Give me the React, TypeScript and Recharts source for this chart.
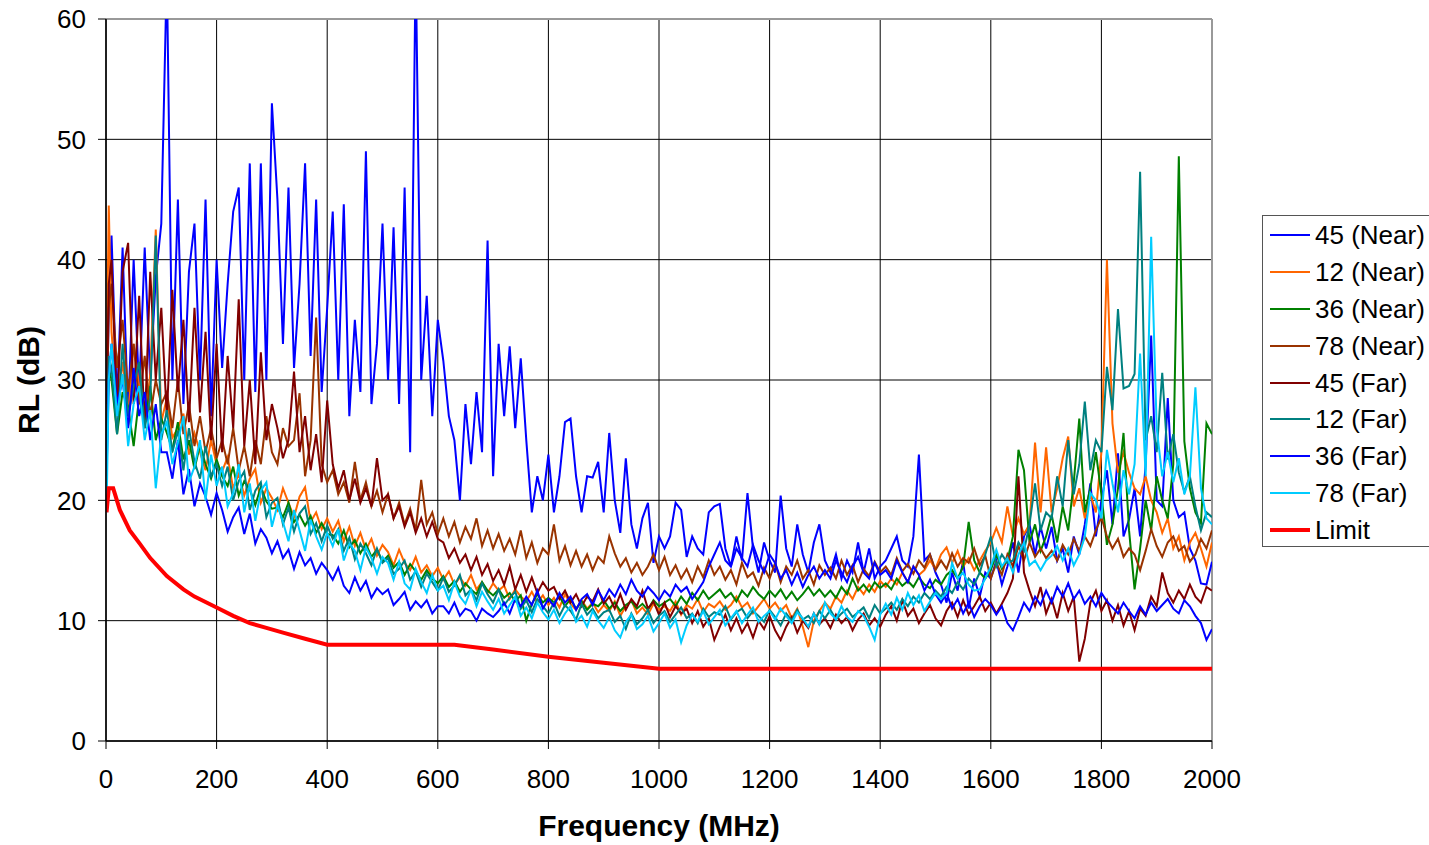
import React from 'react';
import { LineChart, Line, XAxis, YAxis, CartesianGrid, ReferenceLine } from 'recharts';

// Frequency grid (MHz)
const FREQS = [
  1, 5,
  10, 20, 30, 40, 50, 60, 70, 80, 90, 100,
  110, 120, 130, 140, 150, 160, 170, 180, 190, 200,
  210, 220, 230, 240, 250, 260, 270, 280, 290, 300,
  310, 320, 330, 340, 350, 360, 370, 380, 390, 400,
  410, 420, 430, 440, 450, 460, 470, 480, 490, 500,
  510, 520, 530, 540, 550, 560, 570, 580, 590, 600,
  610, 620, 630, 640, 650, 660, 670, 680, 690, 700,
  710, 720, 730, 740, 750, 760, 770, 780, 790, 800,
  810, 820, 830, 840, 850, 860, 870, 880, 890, 900,
  910, 920, 930, 940, 950, 960, 970, 980, 990, 1000,
  1010, 1020, 1030, 1040, 1050, 1060, 1070, 1080, 1090, 1100,
  1110, 1120, 1130, 1140, 1150, 1160, 1170, 1180, 1190, 1200,
  1210, 1220, 1230, 1240, 1250, 1260, 1270, 1280, 1290, 1300,
  1310, 1320, 1330, 1340, 1350, 1360, 1370, 1380, 1390, 1400,
  1410, 1420, 1430, 1440, 1450, 1460, 1470, 1480, 1490, 1500,
  1510, 1520, 1530, 1540, 1550, 1560, 1570, 1580, 1590, 1600,
  1610, 1620, 1630, 1640, 1650, 1660, 1670, 1680, 1690, 1700,
  1710, 1720, 1730, 1740, 1750, 1760, 1770, 1780, 1790, 1800,
  1810, 1820, 1830, 1840, 1850, 1860, 1870, 1880, 1890, 1900,
  1910, 1920, 1930, 1940, 1950, 1960, 1970, 1980, 1990, 2000,
];

const NEAR_45 = [
  26, 36,
  42, 28, 41, 27, 40, 29, 41, 30, 38.5, 43,
  64, 30, 45, 28, 39, 43, 30, 45, 27, 40,
  31, 38, 44, 46, 30, 48, 29, 48, 30, 53,
  45, 33, 46, 31, 38, 48, 32, 45, 29, 36,
  44, 30, 44.6, 27, 35, 29, 49, 28, 33, 43,
  30, 42.7, 28, 46, 24, 65, 30, 37, 27, 35,
  31.6, 27, 25, 20, 28, 23, 29, 24, 41.6, 22,
  33, 27, 32.8, 26, 31.8, 25, 19, 22, 20, 23.8,
  19, 22, 26.5, 26.8, 22, 19, 22, 21.9, 23.2, 19,
  25.6, 20, 17.3, 23.5, 18, 16, 18.5, 19.8, 14.8, 17,
  16, 17, 19.8, 19.2, 15.3, 17, 16, 15.5, 19, 19.5,
  19.7, 16, 14.5, 17, 15, 20.6, 16, 14, 16.5, 15,
  14, 20.4, 16, 14.5, 18, 15.5, 14, 16.5, 18, 15,
  14, 15.5, 13.5, 15, 14, 16.5, 14, 16, 13.5, 14.5,
  15, 16, 17, 15, 14.5, 17, 23.8, 15, 15.5, 14,
  13, 11.5, 14, 12.5, 15, 11, 13.5, 12, 14, 13.5,
  15, 13, 14.5, 16.5, 14, 17, 18, 15.5, 17.8, 16,
  17.8, 15, 16, 14, 17, 15.5, 18, 21.4, 17, 20,
  22.5, 18, 23.9, 17, 18.4, 21, 17, 23, 33.7, 20,
  19.5, 28.5, 20, 18.6, 19, 16, 15, 13.1, 13, 14.9,
];

const NEAR_12 = [
  30, 44.5,
  34, 28, 31.5, 27, 33, 29.5, 26, 30.5, 42.5, 26.5,
  28.5, 25.2, 26, 27.2, 23.8, 25.6, 24, 22.5, 25, 23,
  22.4, 23.6, 21, 22.2, 20.4, 21.8, 22.6, 19.8, 21, 20.2,
  19.2, 21, 19.8, 18.6, 20.3, 21.1, 18.2, 19, 17.6, 18.5,
  17.4, 18.3, 16.6, 17.8, 16.2, 17.3, 15.9, 16.8, 15.4, 16.3,
  15.7, 14.6, 15.9, 14.8, 14.2, 15.3, 14, 14.6, 13.7, 14.4,
  13.4, 14.1, 13, 13.6, 12.9, 13.8, 12.6, 13.2, 12.3, 13.1,
  12.5, 12.9, 11.8, 12.6, 12, 11.6, 12.4, 11.5, 12.1, 11.3,
  11.9, 11.1, 12.2, 11.4, 10.9, 11.7, 11, 11.5, 10.7, 11.3,
  10.8, 11.6, 10.4, 11.2, 11.7, 10.6, 11.1, 10.5, 11.4, 10.9,
  11.2, 10.8, 11.6, 10.5, 11.3, 11, 11.8, 10.7, 11.4, 11.1,
  11.6, 10.9, 11.3, 12, 11.1, 11.5, 10.6, 11.2, 11.8, 11,
  11.5, 10.8, 11.3, 10.2, 11, 9.5, 7.8, 10, 10.8, 11.5,
  11, 12, 11.5, 12.5, 11.8, 12.8, 12.2, 13, 12.4, 13.3,
  12.8, 13.5, 13, 14, 13.2, 14.5, 13.8, 14.2, 15, 14.3,
  15.5, 16.1, 14.8, 15.8, 14.5, 15.2, 14.2, 15, 15.8, 16.5,
  17.7, 16.5, 19.5, 17, 18.5, 17.2, 18, 24.8, 19, 24.4,
  19, 21, 23.5, 25.3, 19.5, 21, 18.5, 20.5, 19, 24,
  40, 26.4, 22.3, 24, 22.3, 21, 20.5, 22, 20, 19,
  17.3, 18.5, 16, 17, 15, 16.5, 17.3, 16, 14.5, 16.5,
];

const NEAR_36 = [
  24, 31,
  30, 25.5, 29, 27.8, 24.5, 28.6, 26.4, 29.5, 25, 26.8,
  25.6, 24.2, 26.5, 23.4, 25, 22.6, 24.6, 23, 21.8, 23.4,
  22, 21.2, 22.8, 20.4, 21.6, 20.9, 19.6, 21.1, 19.9, 19.3,
  19.4, 18.6, 19.8, 18.2, 18.8, 17.9, 18.7, 17.3, 18.1, 17.2,
  17.1, 16.4, 17.5, 16.1, 16.7, 15.6, 16.4, 15.3, 15.9, 14.9,
  15.4, 14.4, 14.9, 13.8, 14.7, 14.1, 13.4, 14.2, 13.5, 13.1,
  13.7, 12.8, 13.3, 12.4, 13.1, 12.6, 12.2, 13.2, 12.5, 12.1,
  12.6, 11.9, 12.3, 11.6, 12.1, 10, 11.4, 12.2, 11.5, 11.9,
  11.5, 12, 11.2, 11.8, 11, 11.6, 10.9, 11.4, 11.2, 11.7,
  11, 11.5, 10.8, 11.3, 11.6, 11, 11.4, 10.9, 11.7, 11.2,
  11.5, 11.8, 11.2, 12, 11.4, 12.3, 11.7, 12.5, 11.8, 12.2,
  12.6, 11.9, 12.3, 11.6, 12.5, 12, 12.8, 12.2, 11.8, 12.5,
  12, 12.6, 11.8, 12.4, 11.7, 12.2, 12.8, 12.1, 12.6, 12,
  12.5, 11.9, 12.8, 12.2, 13.5, 12.5, 13, 12.4, 13.2, 12.7,
  13.1, 12.6, 13.5, 12.9, 13.3, 12.8, 13.6, 13, 12.7, 13.4,
  13, 13.8, 14.2, 13.5, 14.5, 18.2, 15, 14, 13.5, 14.2,
  15.5, 14.3, 15, 17, 24.2, 22.5, 16.5, 18, 15.8, 17,
  18.8, 16.5, 19.5, 17.5, 21.5, 26.8, 19, 21, 24, 20.5,
  16.3, 18, 21, 25.6, 17.5, 12.6, 16, 20, 17.5, 22,
  20, 18.5, 23, 48.6, 24.9, 21, 19, 18.1, 26.4, 25.5,
];

const NEAR_78 = [
  26, 36,
  38, 31, 35, 29, 33, 28, 32, 27, 30, 28,
  29, 26, 30, 25.5, 28, 24.5, 27, 24, 26, 23.5,
  25, 23, 26, 22.5, 24.5, 22, 25, 23, 27, 24,
  23, 26, 24.5, 25, 28.9, 22, 25, 35.2, 23, 21.5,
  22.5, 20.5, 21.5, 19.8, 23.2, 20, 21.5, 19.5, 20.8, 19,
  20.5, 18.5, 19.8, 18, 19.3, 17.5, 21.7, 18, 19, 17.2,
  18.5, 17, 18.2, 16.5, 17.8, 16.8, 18.5, 16.2, 17.5, 16,
  17.2, 15.8, 16.8, 15.5, 17.5, 15.2, 16.5, 14.8, 16, 15.5,
  18, 15, 16.2, 14.6, 15.8, 14.5, 15.5, 14.2, 15.3, 14.8,
  17, 15.6, 14.5, 15.2, 14, 14.8, 13.8, 14.5, 15.5, 14.2,
  15.3, 13.8, 14.6, 13.5, 14.3, 13.2, 14.5, 13.6, 15, 13.8,
  14.5, 13.4, 14.2, 13, 14.8, 13.6, 14, 12.9, 14.4, 13.5,
  14.8, 13.2, 14.5, 13.8, 15, 13.5, 14.2, 13, 14.6, 13.8,
  14.4, 13.5, 15, 13.8, 14.6, 13.2, 14.3, 13.7, 14.9, 14,
  14.5, 13.8, 15.2, 14.1, 14.7, 13.9, 15, 14.4, 15.5, 14.2,
  15, 14.3, 15.6, 14.5, 15.2, 14.8, 16, 14.6, 15.4, 13.5,
  14.8, 13.8, 15.5, 14.5, 16.2, 15, 16.5, 15.3, 16, 15.2,
  15.8, 15, 16.3, 15.5, 16.8, 15.8, 17, 16.2, 17.5, 18.6,
  17, 16, 16.8, 15.3, 16, 15.5, 14.2, 15.8, 17.6, 16.2,
  15.3, 16.5, 17, 15.8, 16.2, 14.9, 15.5, 16.8, 16, 17.5,
];

const FAR_45 = [
  28, 38,
  40, 27, 39, 41.4, 28, 37, 26, 39, 30, 36,
  27, 37.5, 29, 35, 26.5, 36, 27.3, 34, 25, 33,
  24, 32, 26, 36.7, 24.5, 30, 23, 32.3, 25, 28,
  26, 23.5, 25, 30.7, 24, 27, 22.5, 25.5, 21.5, 28.3,
  23, 21, 22.5, 20, 21.8, 19.8, 21, 19.5, 23.5, 20,
  20.5, 18.5, 19.5, 17.8, 19, 17.3, 18.5, 17, 18.2, 16.8,
  16.5, 15.2, 16, 14.8, 15.5, 14.2, 15.3, 13.8, 14.7, 13.3,
  14.2, 13, 14.5, 12.6, 13.8, 12.4, 13.6, 12.3, 13.2, 12.5,
  12.8, 11.8, 12.5, 11.5, 12.2, 11.2, 12, 11.6, 12.6, 11.4,
  12, 11, 12.2, 10.9, 11.8, 11.2, 12.5, 11, 11.6, 10.5,
  11.5, 10.3, 11.2, 10.6, 11, 9.8, 10.8, 9.5, 10.2, 8.4,
  9.5, 10.5, 9.2, 10.2, 9, 9.8, 8.6, 10, 9.3, 10.4,
  9.2, 8.4, 9.5, 10.3, 9, 10, 9.4, 10.6, 9.7, 10.2,
  9.4, 10.5, 9.8, 10.3, 9.2, 10.1, 10.6, 9.6, 10.2, 9.5,
  10.5, 11.2, 10, 11.7, 10.4, 11, 9.8, 10.6, 11.3, 10.2,
  9.6, 10.8, 11.5, 10.3, 11.7, 10.5, 11.2, 12, 10.8, 11.5,
  10.6, 11.4, 12.3, 13.5, 22, 14, 12.5, 11.2, 12.8, 10.6,
  11.8, 10.2, 12.3, 10.8, 12, 6.6, 8.5, 11.5, 12.5, 10.8,
  11.7, 10, 11.3, 9.6, 10.8, 9.2, 11, 10.4, 12, 11.2,
  14, 12.3, 11.5, 12.5, 11.8, 13, 12, 11.5, 12.8, 12.5,
];

const FAR_12 = [
  23, 32,
  31, 25.5, 33, 27, 29.5, 31.5, 26, 28.5, 42, 25,
  27.5, 24, 25.8, 22.5, 26, 23.2, 21.8, 24.5, 22, 23,
  21.2, 22.8, 20, 21.6, 22.4, 19.2, 20.8, 21.5, 18.6, 19.8,
  20.2, 18, 19.4, 17.4, 18.9, 19.5, 17.2, 18.1, 16.6, 17.9,
  16.8, 17.6, 15.8, 16.9, 15.1, 16.4, 15.6, 14.6, 16, 14.8,
  15.2, 13.9, 14.3, 15, 13.4, 14.1, 12.8, 13.9, 13.2, 12.5,
  13.6, 12.4, 12.9, 13.8, 12.1, 12.6, 11.7, 13.1, 12.2, 11.5,
  12.6, 11.3, 11.9, 12.4, 11, 11.7, 10.7, 11.8, 11.2, 10.6,
  11.5, 10.4, 11.3, 10.8, 10.1, 11.4, 10.5, 11, 10.2, 10.7,
  10.9, 9.9, 10.4, 9.3, 10.6, 9.7, 10.2, 10.9, 9.8, 10.4,
  10.8, 9.9, 10.5, 11.1, 10.2, 10.6, 9.8, 11, 10.3, 10.7,
  10.5, 11.2, 10.1, 10.7, 11, 10.2, 10.8, 10.4, 9.9, 10.9,
  10.3, 9.6, 10.6, 10, 10.9, 10.1, 10.4, 9.8, 10.8, 10.2,
  10.9, 10.1, 10.6, 11, 10.3, 10.7, 11.1, 10.2, 11.3, 10.6,
  11, 11.5, 10.9, 11.8, 11.2, 12, 11.5, 12.3, 11.8, 12.5,
  12, 12.8, 12.3, 13.2, 12.6, 13.5, 13, 14, 15.5, 17,
  14.5, 15.5, 14.8, 15, 16.5, 15.8, 18, 21.4, 17.5, 19,
  18.5, 22, 19.5, 25, 20.5, 23, 28.2, 22.5, 25, 24,
  31.1, 27.5, 35.9, 29.3, 29.5, 30.5, 47.3, 25, 27, 24,
  30.6, 23.4, 25.5, 22.3, 20.7, 22, 19.5, 17.5, 19, 18.6,
];

const FAR_36 = [
  22, 30,
  33, 28, 30, 26, 31, 27, 29, 25, 28, 24,
  24, 21.8, 25, 20.5, 22.6, 19.5, 21.4, 20.3, 18.8, 20.6,
  19.2, 17.4, 18.6, 19.4, 17.2, 18.9, 16.4, 17.6, 16.9, 15.6,
  16.6, 15.2, 15.9, 14.3, 15.7, 14.6, 15.2, 13.9, 14.8, 14.2,
  13.4, 14.4, 12.9, 12.3, 13.6, 12.5, 13.3, 11.9, 12.7, 12.2,
  12.6, 11.3, 11.8, 12.4, 10.9, 11.6, 11.1, 11.7, 10.6, 11.2,
  11.2, 10.6, 11.5, 10.4, 11, 10.8, 10, 11, 10.6, 10.3,
  10.8, 11.5, 10.6, 11.8, 11.2, 12, 11.3, 12.5, 11, 11.8,
  11.2, 12.3, 11.5, 12, 10.9, 11.8, 12.2, 11.3, 12.5, 11.7,
  12.6, 12, 13, 12.2, 13.4, 12.5, 12, 12.8, 12.3, 11.7,
  12.5, 12, 13, 12.4, 12.8, 11.8, 12.5, 13.2, 14.5, 15.5,
  16.5, 15, 14.5, 16, 15.2, 14.5, 16.3, 15, 14, 15.5,
  14.8, 13.5, 14.2, 13, 14, 12.8, 13.8, 14.5, 13.5, 14.2,
  13.5, 15, 14, 13.2, 14.5, 15.3, 14, 13.5, 14.8, 13.8,
  14.2, 13.5, 15, 14, 13.2, 14.5, 13.8, 12.5, 13.4, 12.2,
  11.5, 12.3, 11, 11.8, 10.6, 11.5, 10.3, 11.2, 11.8, 11.3,
  10.5, 11.2, 9.8, 9.2, 10.3, 11.5, 10.8, 12, 11.3, 12.5,
  11.5, 12.8, 12, 13.1, 11.8, 12.5, 11.4, 12, 11.2, 12.3,
  11.6, 11.1, 10.6, 11.5, 10.8, 10.2, 11.2, 10.5, 11.5, 10.8,
  11.3, 11.8, 11, 10.6, 11.7, 11.2, 10.4, 9.8, 8.4, 9.3,
];

const FAR_78 = [
  19, 30,
  33, 27, 30.5, 24.5, 28, 29.5, 25, 27.5, 21, 25.5,
  26.5, 23, 24.8, 27, 21.5, 22.8, 25, 20, 23.8, 21.2,
  22.8, 19.5, 20.6, 23, 19, 21.4, 18.3, 20.8, 21.5, 17.8,
  19.6, 18.2, 16.6, 19.2, 17.5, 15.8, 18.4, 17, 15.9, 17.3,
  16.2, 17.6, 15, 16.4, 15.8, 14.2, 16.1, 15.2, 13.9, 15.3,
  14.8, 13.4, 14.9, 13.1, 12.6, 14.3, 13.2, 12.3, 13.8, 12.5,
  12.9, 11.7, 13.2, 12, 11.4, 12.6, 11.2, 12.4, 11.6, 10.9,
  11.8, 10.6, 11.3, 12, 10.4, 11.1, 10.2, 11.5, 10.7, 10.1,
  10.9, 9.8, 10.6, 11.2, 9.9, 10.4, 9.5, 10.8, 10, 9.4,
  10.3, 9.2, 8.6, 9.9, 10.5, 9.3, 9.7, 10.4, 9.1, 9.8,
  10.6, 9.4, 10.1, 8.2, 9.6, 10.5, 9.9, 10.8, 9.7, 10.3,
  10.9, 9.6, 10.2, 10.8, 9.8, 10.5, 11.1, 9.9, 10.4, 10.8,
  10.1, 11, 10.4, 9.8, 10.7, 10.2, 9.5, 10.6, 9.7, 11.5,
  10.6, 10.1, 11.2, 10.3, 9.9, 10.8, 10.4, 9.5, 8.4, 10.5,
  11.4, 10.5, 11.9, 10.9, 12.3, 11.3, 12.1, 10.8, 11.6, 12.3,
  11.8, 12.3, 14.8, 13.5, 14, 13, 12.5, 12.6, 13.5, 14.5,
  15.9, 14.5, 15.2, 14, 15.5, 16.5, 14.6, 15, 14.2, 15,
  15.4, 16.2, 15, 16, 14.6, 15.5, 17, 20.6, 20, 18.5,
  24.2, 21.4, 19, 22.5, 20.5, 23, 32.2, 22, 41.9, 26,
  22, 24, 21.5, 23.5, 20.5, 22, 29.4, 21, 18.5, 18,
];

// Limit line (read at its bend points)
const LIMIT_F = [1, 5, 13, 25, 43, 61, 80, 110, 140, 160, 200, 230, 260, 290, 320, 360, 400, 630, 700, 800, 900, 1000, 2000];
const LIMIT_V = [19, 21, 21, 19.2, 17.5, 16.4, 15.2, 13.7, 12.6, 12, 11.1, 10.4, 9.8, 9.4, 9, 8.5, 8, 8, 7.6, 7, 6.5, 6, 6];

const X_TICKS = [0, 200, 400, 600, 800, 1000, 1200, 1400, 1600, 1800, 2000];
const Y_TICKS = [0, 10, 20, 30, 40, 50, 60];

const SERIES = [
  { key: 'n45', name: '45 (Near)', color: '#0000FF', values: NEAR_45 },
  { key: 'n12', name: '12 (Near)', color: '#FF6600', values: NEAR_12 },
  { key: 'n36', name: '36 (Near)', color: '#008000', values: NEAR_36 },
  { key: 'n78', name: '78 (Near)', color: '#993300', values: NEAR_78 },
  { key: 'f45', name: '45 (Far)', color: '#800000', values: FAR_45 },
  { key: 'f12', name: '12 (Far)', color: '#008080', values: FAR_12 },
  { key: 'f36', name: '36 (Far)', color: '#0000FF', values: FAR_36 },
  { key: 'f78', name: '78 (Far)', color: '#00CCFF', values: FAR_78 },
];

const LIMIT = { key: 'limit', name: 'Limit', color: '#FF0000' };

const rows = FREQS.map((f, i) => {
  const r: Record<string, number> = { f };
  SERIES.forEach((s) => {
    r[s.key] = s.values[i];
  });
  return r;
});

const limitRows = LIMIT_F.map((f, i) => ({ f, limit: LIMIT_V[i] }));

const FONT = '"Liberation Sans", Arial, Helvetica, sans-serif';

const YLabel = (props: any) => {
  const vb = props.viewBox || { x: 0, y: 19, width: 106, height: 722 };
  const cx = vb.x + 28;
  const cy = vb.y + vb.height / 2;
  return (
    <text
      x={cx}
      y={cy}
      transform={`rotate(-90 ${cx} ${cy})`}
      textAnchor="middle"
      dominantBaseline="central"
      fontFamily={FONT}
      fontWeight="bold"
      fontSize={30}
      fill="#000"
    >
      RL (dB)
    </text>
  );
};

const XLabel = (props: any) => {
  const vb = props.viewBox || { x: 106, y: 741, width: 1106, height: 104 };
  const cx = vb.x + vb.width / 2;
  const y = vb.y + 95;
  return (
    <text x={cx} y={y} textAnchor="middle" fontFamily={FONT} fontWeight="bold" fontSize={30} fill="#000">
      Frequency (MHz)
    </text>
  );
};

const legendItems = [...SERIES.map((s) => ({ name: s.name, color: s.color, w: 2 })), { name: LIMIT.name, color: LIMIT.color, w: 4 }];

export default function App() {
  return (
    <div
      style={{
        position: 'absolute',
        left: 0,
        top: 0,
        width: 1429,
        height: 845,
        overflow: 'hidden',
        background: '#fff',
        fontFamily: FONT,
      }}
    >
      <LineChart width={1429} height={845} data={rows} margin={{ top: 19, right: 217, bottom: 0, left: 0 }}>
        <CartesianGrid stroke="#000" strokeWidth={1} />
        <XAxis
          dataKey="f"
          type="number"
          domain={[0, 2000]}
          ticks={X_TICKS}
          allowDataOverflow
          height={104}
          tickSize={8}
          tickMargin={21}
          tick={{ fontSize: 26, fill: '#000', fontFamily: FONT }}
          axisLine={{ stroke: '#000', strokeWidth: 1.5 }}
          tickLine={{ stroke: '#000' }}
          label={<XLabel />}
        />
        <YAxis
          type="number"
          domain={[0, 60]}
          ticks={Y_TICKS}
          allowDataOverflow
          width={106}
          tickSize={8}
          tickMargin={12}
          tick={{ fontSize: 26, fill: '#000', fontFamily: FONT }}
          axisLine={{ stroke: '#000', strokeWidth: 1.5 }}
          tickLine={{ stroke: '#000' }}
          label={<YLabel />}
        />
        <ReferenceLine y={60} stroke="#999" strokeWidth={2} />
        <ReferenceLine x={2000} stroke="#999" strokeWidth={2} />
        {SERIES.map((s) => (
          <Line
            key={s.key}
            dataKey={s.key}
            name={s.name}
            type="linear"
            stroke={s.color}
            strokeWidth={2}
            dot={false}
            activeDot={false}
            isAnimationActive={false}
          />
        ))}
        <Line
          data={limitRows}
          dataKey="limit"
          name={LIMIT.name}
          type="linear"
          stroke={LIMIT.color}
          strokeWidth={4}
          dot={false}
          activeDot={false}
          isAnimationActive={false}
        />
      </LineChart>
      <div
        style={{
          position: 'absolute',
          left: 1262,
          top: 215,
          width: 180,
          height: 332,
          border: '1px solid #555',
          boxSizing: 'border-box',
          background: '#fff',
          paddingTop: 1,
        }}
      >
        {legendItems.map((it) => (
          <div key={it.name} style={{ height: 36.8, display: 'flex', alignItems: 'center' }}>
            <div style={{ marginLeft: 7, width: 40, height: it.w, background: it.color }} />
            <span style={{ marginLeft: 5, fontSize: 26, color: '#000', lineHeight: '26px', whiteSpace: 'nowrap' }}>
              {it.name}
            </span>
          </div>
        ))}
      </div>
    </div>
  );
}
